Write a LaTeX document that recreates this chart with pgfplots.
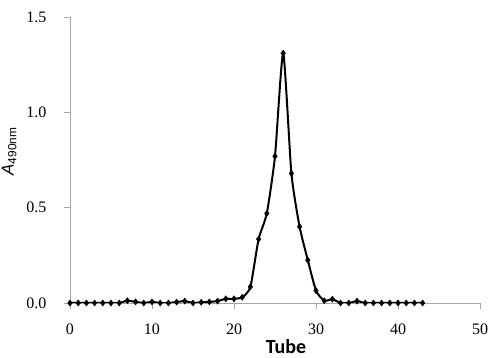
\documentclass[border=0pt]{standalone}
\usepackage{pgfplots}
\pgfplotsset{compat=1.18}
\usepackage{fontspec}
\setmainfont{Liberation Serif}
\newfontfamily\labelfont{Carlito}
\newfontfamily\arialfont{Liberation Sans}

\pgfplotstableread{
x y
0 0
1 0
2 0
3 0
4 0
5 0
6 0
7 0.012
8 0.006
9 0
10 0.006
11 0
12 0
13 0.005
14 0.01
15 0
16 0.004
17 0.006
18 0.01
19 0.022
20 0.022
21 0.03
22 0.085
23 0.335
24 0.47
25 0.77
26 1.31
27 0.68
28 0.40
29 0.225
30 0.065
31 0.012
32 0.02
33 0
34 0
35 0.01
36 0
37 0
38 0
39 0
40 0
41 0
42 0
43 0
}\datatable

\begin{document}
\begin{tikzpicture}
\begin{axis}[
  scale only axis,
  width=410pt, height=286pt,
  xmin=0, xmax=50, ymin=0, ymax=1.5,
  xtick={0,10,...,50},
  ytick={0,0.5,1,1.5},
  axis x line*=bottom,
  axis y line*=left,
  axis line style={draw=gray!70, line width=0.8pt},
  major tick style={draw=gray!70, line width=0.8pt},
  tick align=outside,
  major tick length=6pt,
  x axis line style={-},
  y axis line style={-},
  /pgf/number format/assume math mode=true,
  tick label style={font=\fontsize{16}{18}\selectfont},
  yticklabel style={/pgf/number format/fixed, /pgf/number format/fixed zerofill, /pgf/number format/precision=1, xshift=-14pt},
  xticklabel style={yshift=-11pt},
  xlabel={\labelfont\bfseries\fontsize{20}{22}\selectfont Tube},
  xlabel style={at={(axis description cs:0.527,0)}, anchor=north, yshift=-33pt},
  ylabel={\arialfont\fontsize{17}{19}\selectfont\itshape A\textsubscript{\upshape 490nm}},
  ylabel style={at={(axis description cs:-0.122,0.53)}, anchor=south},
]
\addplot[black, line width=2pt, smooth, tension=0.35, mark=diamond*, mark size=3pt, mark options={line width=0.5pt}] table[x=x, y=y] {\datatable};
\end{axis}
\pgfresetboundingbox
\path ([shift={(-70pt,-55pt)}]current axis.south west) rectangle ([shift={(20pt,17pt)}]current axis.north east);
\end{tikzpicture}
\end{document}
